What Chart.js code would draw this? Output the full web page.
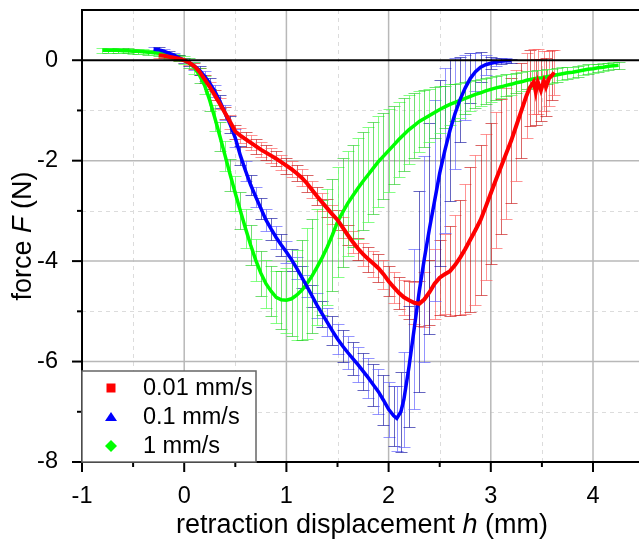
<!DOCTYPE html>
<html>
<head>
<meta charset="utf-8">
<script src="https://cdn.jsdelivr.net/npm/chart.js@4.4.1/dist/chart.umd.min.js"></script>
<style>
  body { margin: 0; background: #fff; }
  canvas { display: block; }
</style>
</head>
<body>
<canvas id="grafico" width="639" height="544"></canvas>
<script>
//DATA
const seriesLabels = ["0.01 mm/s", "0.1 mm/s", "1 mm/s"];

// 0.01 mm/s
const h001 = [
    -0.25, -0.2, -0.15, -0.1, -0.05,
    0, 0.05, 0.1, 0.15, 0.2, 0.25, 0.3, 0.35, 0.4, 0.45,
    0.5, 0.55, 0.6, 0.65, 0.7, 0.75, 0.8, 0.85, 0.9, 0.95,
    1.0, 1.05, 1.1, 1.15, 1.2, 1.25, 1.3, 1.35, 1.4, 1.45,
    1.5, 1.55, 1.6, 1.65, 1.7, 1.75, 1.8, 1.85, 1.9, 1.95,
    2.0, 2.05, 2.1, 2.15, 2.2, 2.25, 2.3, 2.35, 2.4, 2.45,
    2.5, 2.55, 2.6, 2.65, 2.7, 2.75, 2.8, 2.85, 2.9, 2.95,
    3.0, 3.05, 3.1, 3.15, 3.2, 3.25, 3.3, 3.35,
    3.38, 3.42, 3.44, 3.46, 3.49, 3.52, 3.54, 3.57, 3.6, 3.62
];
const F001 = [
    0.1, 0.09, 0.07, 0.05, 0.03,
    0, -0.05, -0.12, -0.23, -0.38, -0.53, -0.7, -0.87, -1.05, -1.23,
    -1.42, -1.5, -1.57, -1.64, -1.71, -1.78, -1.84, -1.9, -1.96, -2.03,
    -2.1, -2.17, -2.25, -2.34, -2.45, -2.58, -2.71, -2.83, -2.95, -3.07,
    -3.18, -3.33, -3.48, -3.62, -3.75, -3.86, -3.96, -4.05, -4.14, -4.26,
    -4.4, -4.52, -4.63, -4.72, -4.78, -4.83, -4.85, -4.76, -4.62, -4.45,
    -4.33, -4.26, -4.2, -4.08, -3.93, -3.76, -3.57, -3.38, -3.18, -2.92,
    -2.65, -2.38, -2.12, -1.86, -1.6, -1.3, -1.0, -0.7,
    -0.55, -0.43, -0.63, -0.43, -0.6, -0.41, -0.53, -0.36, -0.3, -0.24
];
const e001 = [
    0.05, 0.05, 0.05, 0.05, 0.05,
    0.05, 0.05, 0.06, 0.07, 0.08, 0.09, 0.1, 0.11, 0.12, 0.13,
    0.14, 0.15, 0.15, 0.15, 0.15, 0.15, 0.15, 0.15, 0.15, 0.15,
    0.16, 0.16, 0.16, 0.17, 0.17, 0.17, 0.18, 0.18, 0.18, 0.19,
    0.2, 0.2, 0.2, 0.21, 0.22, 0.23, 0.25, 0.26, 0.28, 0.29,
    0.3, 0.31, 0.32, 0.35, 0.38, 0.42, 0.45, 0.55, 0.65, 0.7,
    0.75, 0.8, 0.9, 1.0, 1.15, 1.3, 1.45, 1.5, 1.5, 1.45,
    1.4, 1.35, 1.35, 1.3, 1.25, 1.1, 0.95, 0.85,
    0.75, 0.65, 0.65, 0.65, 0.62, 0.6, 0.58, 0.55, 0.5, 0.45
];

// 0.1 mm/s
const h01 = [
    -0.3, -0.25, -0.2, -0.15, -0.1, -0.05,
    0, 0.05, 0.1, 0.15, 0.2, 0.25, 0.3, 0.35, 0.4, 0.45,
    0.5, 0.55, 0.6, 0.65, 0.7, 0.75, 0.8, 0.85, 0.9, 0.95,
    1.0, 1.05, 1.1, 1.15, 1.2, 1.25, 1.3, 1.35, 1.4, 1.45,
    1.5, 1.55, 1.6, 1.65, 1.7, 1.75, 1.8, 1.85, 1.9, 1.95,
    2.0, 2.05, 2.08, 2.12, 2.15, 2.2, 2.25, 2.3, 2.35, 2.4, 2.45,
    2.5, 2.55, 2.6, 2.65, 2.7, 2.75, 2.8, 2.85, 2.9, 2.95,
    3.0, 3.05, 3.1, 3.15, 3.2
];
const F01 = [
    0.22, 0.21, 0.18, 0.14, 0.1, 0.05,
    0, -0.05, -0.12, -0.2, -0.32, -0.46, -0.62, -0.82, -1.05, -1.28,
    -1.55, -1.9, -2.2, -2.48, -2.72, -2.95, -3.18, -3.36, -3.53, -3.68,
    -3.82, -3.97, -4.14, -4.32, -4.5, -4.69, -4.88, -5.05, -5.22, -5.39,
    -5.55, -5.69, -5.82, -5.94, -6.06, -6.19, -6.32, -6.46, -6.6, -6.77,
    -6.95, -7.08, -7.13, -7.0, -6.75, -6.1, -5.35, -4.6, -3.95, -3.35, -2.8,
    -2.25, -1.8, -1.4, -1.06, -0.78, -0.55, -0.36, -0.23, -0.14, -0.09,
    -0.06, -0.04, -0.02, -0.01, -0.01
];
const e01 = [
    0.05, 0.05, 0.05, 0.05, 0.05, 0.05,
    0.05, 0.06, 0.08, 0.09, 0.1, 0.11, 0.12, 0.13, 0.15, 0.16,
    0.18, 0.19, 0.2, 0.2, 0.2, 0.21, 0.22, 0.22, 0.22, 0.22,
    0.22, 0.22, 0.22, 0.22, 0.22, 0.22, 0.25, 0.26, 0.28, 0.29,
    0.3, 0.31, 0.32, 0.33, 0.35, 0.37, 0.4, 0.42, 0.45, 0.5,
    0.55, 0.6, 0.65, 0.8, 0.95, 1.2, 1.6, 2.0, 2.05, 2.1, 2.0,
    1.85, 1.65, 1.4, 1.1, 0.85, 0.65, 0.5, 0.38, 0.3, 0.2,
    0.12, 0.08, 0.06, 0.05, 0.04
];

// 1 mm/s
const h1 = [
    -0.8, -0.75, -0.7, -0.65, -0.6, -0.55, -0.5, -0.45, -0.4, -0.35,
    -0.3, -0.25, -0.2, -0.15, -0.1, -0.05,
    0, 0.05, 0.1, 0.15, 0.2, 0.25, 0.3, 0.35, 0.4, 0.45,
    0.5, 0.55, 0.6, 0.65, 0.7, 0.75, 0.8, 0.85, 0.9, 0.95,
    1.0, 1.05, 1.1, 1.15, 1.2, 1.25, 1.3, 1.35, 1.4, 1.45,
    1.5, 1.55, 1.6, 1.65, 1.7, 1.75, 1.8, 1.85, 1.9, 1.95,
    2.0, 2.05, 2.1, 2.15, 2.2, 2.25, 2.3, 2.35, 2.4, 2.45,
    2.5, 2.55, 2.6, 2.65, 2.7, 2.75, 2.8, 2.85, 2.9, 2.95,
    3.0, 3.05, 3.1, 3.15, 3.2, 3.25, 3.3, 3.35, 3.4, 3.45,
    3.5, 3.55, 3.6, 3.65, 3.7, 3.75, 3.8, 3.85, 3.9, 3.95,
    4.0, 4.05, 4.1, 4.15, 4.2, 4.25
];
const F1 = [
    0.2, 0.2, 0.2, 0.2, 0.19, 0.19, 0.18, 0.18, 0.17, 0.16,
    0.15, 0.14, 0.12, 0.1, 0.07, 0.04,
    0, -0.06, -0.15, -0.3, -0.5, -0.8, -1.15, -1.52, -1.9, -2.28,
    -2.65, -3.0, -3.35, -3.68, -3.98, -4.24, -4.45, -4.6, -4.72, -4.77,
    -4.78, -4.75, -4.68, -4.58, -4.45, -4.3, -4.12, -3.93, -3.72, -3.48,
    -3.22, -3.03, -2.85, -2.7, -2.55, -2.41, -2.28, -2.15, -2.02, -1.91,
    -1.8, -1.69, -1.58, -1.48, -1.38, -1.3, -1.22, -1.16, -1.1, -1.04,
    -0.98, -0.93, -0.88, -0.84, -0.8, -0.76, -0.72, -0.68, -0.65, -0.61,
    -0.58, -0.55, -0.53, -0.5, -0.48, -0.45, -0.43, -0.4, -0.38, -0.36,
    -0.35, -0.33, -0.31, -0.29, -0.27, -0.25, -0.24, -0.22, -0.2, -0.18,
    -0.17, -0.15, -0.14, -0.12, -0.11, -0.1
];
const e1 = [
    0.05, 0.05, 0.05, 0.05, 0.05, 0.05, 0.05, 0.05, 0.05, 0.05,
    0.05, 0.05, 0.05, 0.05, 0.05, 0.06,
    0.08, 0.1, 0.12, 0.15, 0.18, 0.22, 0.25, 0.28, 0.3, 0.32,
    0.35, 0.37, 0.38, 0.4, 0.42, 0.45, 0.48, 0.5, 0.52, 0.58,
    0.65, 0.75, 0.9, 1.0, 1.1, 1.13, 1.15, 1.15, 1.15, 1.12,
    1.1, 1.08, 1.05, 1.02, 1.0, 0.98, 0.95, 0.92, 0.9, 0.86,
    0.82, 0.78, 0.75, 0.72, 0.68, 0.64, 0.6, 0.56, 0.53, 0.5,
    0.46, 0.42, 0.4, 0.37, 0.35, 0.32, 0.3, 0.28, 0.27, 0.26,
    0.25, 0.24, 0.23, 0.22, 0.21, 0.2, 0.19, 0.18, 0.17, 0.16,
    0.16, 0.15, 0.14, 0.14, 0.13, 0.12, 0.11, 0.11, 0.1, 0.1,
    0.09, 0.08, 0.08, 0.07, 0.07, 0.07
];

// ticks
const xMajor = [-1, 0, 1, 2, 3, 4];
const xMinor = [-0.5, 0.5, 1.5, 2.5, 3.5];
const yMajor = [-8, -6, -4, -2, 0];
const yMinor = [-7, -5, -3, -1];

const xTitle = ["retraction displacement ", "h", " (mm)"];
const yTitle = ["force ", "F", " (N)"];

const FUENTE = "'Liberation Sans', Arial, sans-serif";

function puntos(hs, fs) {
    return hs.map((h, i) => ({ x: h, y: fs[i] }));
}

//PLUGINS
const fondoEjes = {
    id: "fondoEjes",
    beforeDatasetsDraw(chart) {
        const { ctx, chartArea: a, scales: { x, y } } = chart;
        ctx.save();
        // minor grid
        ctx.strokeStyle = "#dcdcdc";
        ctx.lineWidth = 1;
        ctx.setLineDash([4, 4]);
        xMinor.forEach(v => {
            let px = Math.round(x.getPixelForValue(v)) + 0.5;
            ctx.beginPath(); ctx.moveTo(px, a.top); ctx.lineTo(px, a.bottom); ctx.stroke();
        });
        yMinor.forEach(v => {
            let py = Math.round(y.getPixelForValue(v)) + 0.5;
            ctx.beginPath(); ctx.moveTo(a.left, py); ctx.lineTo(a.right, py); ctx.stroke();
        });
        // major grid
        ctx.setLineDash([]);
        ctx.strokeStyle = "#b8b8b8";
        ctx.lineWidth = 1.5;
        xMajor.forEach(v => {
            let px = x.getPixelForValue(v);
            ctx.beginPath(); ctx.moveTo(px, a.top); ctx.lineTo(px, a.bottom); ctx.stroke();
        });
        yMajor.forEach(v => {
            if (v === 0) return;
            let py = y.getPixelForValue(v);
            ctx.beginPath(); ctx.moveTo(a.left, py); ctx.lineTo(a.right, py); ctx.stroke();
        });
        ctx.restore();

        // error bars
        chart.data.datasets.forEach(ds => {
            const colores = ds.coloresBarras;
            ctx.save();
            ctx.lineWidth = 1;
            ds.data.forEach((p, i) => {
                let err = ds.errores[i];
                let px = Math.round(x.getPixelForValue(p.x)) + 0.5;
                let top = Math.round(y.getPixelForValue(p.y + err)) + 0.5;
                let bot = Math.round(y.getPixelForValue(p.y - err)) + 0.5;
                ctx.strokeStyle = colores[i % 2];
                ctx.beginPath();
                ctx.moveTo(px, top); ctx.lineTo(px, bot);
                ctx.moveTo(px - 6, top); ctx.lineTo(px + 6, top);
                ctx.moveTo(px - 6, bot); ctx.lineTo(px + 6, bot);
                ctx.stroke();
            });
            ctx.restore();
        });
    },
    afterDatasetsDraw(chart) {
        const { ctx, chartArea: a, scales: { x, y } } = chart;
        ctx.save();
        ctx.strokeStyle = "#000";
        ctx.lineWidth = 2;
        // zero line
        let y0 = y.getPixelForValue(0);
        ctx.beginPath(); ctx.moveTo(a.left, y0); ctx.lineTo(a.right, y0); ctx.stroke();
        // frame
        ctx.beginPath();
        ctx.moveTo(a.right, a.top); ctx.lineTo(a.left, a.top);
        ctx.lineTo(a.left, a.bottom); ctx.lineTo(a.right, a.bottom);
        ctx.stroke();
        // tick marks
        xMajor.forEach(v => {
            let px = x.getPixelForValue(v);
            ctx.beginPath(); ctx.moveTo(px, a.bottom); ctx.lineTo(px, a.bottom + 10); ctx.stroke();
        });
        xMinor.forEach(v => {
            let px = x.getPixelForValue(v);
            ctx.beginPath(); ctx.moveTo(px, a.bottom); ctx.lineTo(px, a.bottom + 5); ctx.stroke();
        });
        yMajor.forEach(v => {
            let py = y.getPixelForValue(v);
            ctx.beginPath(); ctx.moveTo(a.left - 10, py); ctx.lineTo(a.left, py); ctx.stroke();
        });
        yMinor.forEach(v => {
            let py = y.getPixelForValue(v);
            ctx.beginPath(); ctx.moveTo(a.left - 5, py); ctx.lineTo(a.left, py); ctx.stroke();
        });

        // legend
        let lx = a.left, ly = 371, lw = 174, lh = a.bottom - 371;
        ctx.fillStyle = "#fff";
        ctx.fillRect(lx, ly, lw, lh);
        ctx.strokeStyle = "#666";
        ctx.lineWidth = 1.5;
        ctx.strokeRect(lx, ly, lw, lh);
        ctx.font = "23.5px " + FUENTE;
        ctx.textBaseline = "middle";
        ctx.textAlign = "left";
        const filas = [388, 417, 446];
        chart.data.datasets.forEach((ds, i) => {
            let cy = filas[i];
            let cx = 111;
            ctx.fillStyle = ds.borderColor;
            ctx.beginPath();
            if (i === 0) {
                ctx.rect(cx - 4.5, cy - 4.5, 9, 9);
            } else if (i === 1) {
                ctx.moveTo(cx, cy - 5); ctx.lineTo(cx + 6, cy + 4); ctx.lineTo(cx - 6, cy + 4);
            } else {
                ctx.moveTo(cx, cy - 6); ctx.lineTo(cx + 6, cy); ctx.lineTo(cx, cy + 6); ctx.lineTo(cx - 6, cy);
            }
            ctx.closePath();
            ctx.fill();
            ctx.fillStyle = "#000";
            ctx.fillText(ds.label, 143, cy + 1);
        });
        ctx.restore();
    },
    afterDraw(chart) {
        const { ctx } = chart;
        ctx.save();
        ctx.fillStyle = "#000";
        ctx.textBaseline = "alphabetic";
        ctx.textAlign = "left";
        const normal = "27px " + FUENTE;
        const cursiva = "italic 27px " + FUENTE;
        function medir(partes) {
            return partes.map((t, i) => {
                ctx.font = i === 1 ? cursiva : normal;
                return ctx.measureText(t).width;
            });
        }
        function escribir(partes, anchos, x0) {
            let pos = x0;
            partes.forEach((t, i) => {
                ctx.font = i === 1 ? cursiva : normal;
                ctx.fillText(t, pos, 0);
                pos += anchos[i];
            });
        }
        // x title
        let ax = medir(xTitle);
        let totalX = ax.reduce((s, w) => s + w, 0);
        ctx.save();
        ctx.translate(362, 533);
        escribir(xTitle, ax, -totalX / 2);
        ctx.restore();
        // y title
        let ay = medir(yTitle);
        let totalY = ay.reduce((s, w) => s + w, 0);
        ctx.save();
        ctx.translate(31, 236);
        ctx.rotate(-Math.PI / 2);
        escribir(yTitle, ay, -totalY / 2);
        ctx.restore();
        ctx.restore();
    }
};

//CHART
const datos = {
    datasets: [
        {
            label: seriesLabels[0],
            data: puntos(h001, F001),
            errores: e001,
            borderColor: "#ff0000",
            backgroundColor: "#ff0000",
            coloresBarras: ["rgba(255,90,90,0.65)", "rgba(200,20,20,0.65)"],
            borderWidth: 4
        },
        {
            label: seriesLabels[1],
            data: puntos(h01, F01),
            errores: e01,
            borderColor: "#0000ff",
            backgroundColor: "#0000ff",
            coloresBarras: ["rgba(90,90,255,0.65)", "rgba(20,20,160,0.65)"],
            borderWidth: 3.5
        },
        {
            label: seriesLabels[2],
            data: puntos(h1, F1),
            errores: e1,
            borderColor: "#00ff00",
            backgroundColor: "#00ff00",
            coloresBarras: ["rgba(80,255,80,0.7)", "rgba(20,200,20,0.6)"],
            borderWidth: 3.5
        }
    ]
};

const config = {
    type: "scatter",
    data: datos,
    options: {
        responsive: false,
        devicePixelRatio: 1,
        animation: false,
        showLine: true,
        elements: {
            point: { radius: 0 },
            line: { tension: 0 }
        },
        layout: { padding: { top: 10, right: 0, left: 0, bottom: 0 } },
        plugins: {
            legend: { display: false },
            tooltip: { enabled: false }
        },
        scales: {
            x: {
                type: "linear",
                min: -1,
                max: 4.45,
                grid: { display: false },
                border: { display: false },
                afterBuildTicks: s => { s.ticks = xMajor.map(v => ({ value: v })); },
                afterFit: s => { s.height = 82; s.paddingLeft = 0; s.paddingRight = 0; },
                ticks: {
                    padding: 12,
                    color: "#000",
                    maxRotation: 0,
                    autoSkip: false,
                    font: { family: FUENTE, size: 23.5 }
                }
            },
            y: {
                type: "linear",
                min: -8,
                max: 1,
                grid: { display: false },
                border: { display: false },
                afterBuildTicks: s => { s.ticks = yMajor.map(v => ({ value: v })); },
                afterFit: s => { s.width = 82; s.paddingTop = 0; s.paddingBottom = 0; },
                ticks: {
                    padding: 16,
                    color: "#000",
                    autoSkip: false,
                    font: { family: FUENTE, size: 23.5 }
                }
            }
        }
    },
    plugins: [fondoEjes]
};

const grafico = new Chart(document.getElementById("grafico"), config);
</script>
</body>
</html>
